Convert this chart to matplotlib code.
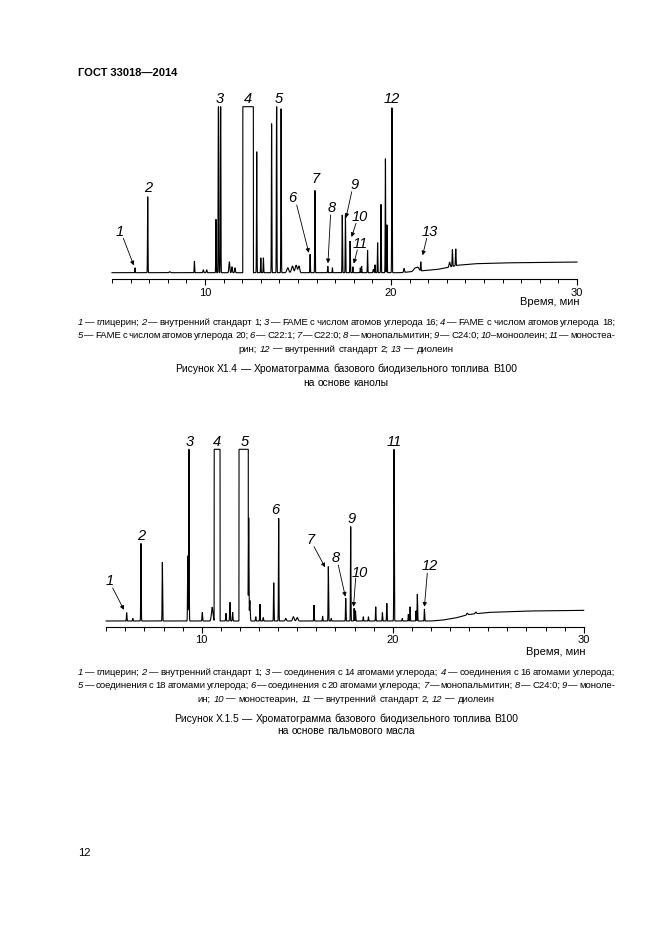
import numpy as np
import matplotlib
matplotlib.use("Agg")
import matplotlib.pyplot as plt
from matplotlib.ticker import MultipleLocator, FixedLocator

# ---------------------------------------------------------------- data
FULL = 100.0  # detector full scale (% of plot height)

# Figure X1.4 - canola biodiesel
canola_rt = [6.24, 6.92, 8.10, 9.43, 9.91, 10.09, 10.59, 10.72, 10.84, 11.31,
             11.45, 11.61, 12.78, 13.00, 13.14, 13.58, 13.85, 14.09, 14.45, 14.70,
             14.90, 15.05, 15.65, 15.91, 16.60, 16.85, 17.38, 17.55, 17.80, 17.95,
             18.35, 18.42, 18.74, 19.05, 19.14, 19.28, 19.46, 19.70, 19.78, 20.05,
             20.70, 21.30, 21.45, 21.60, 23.15, 23.30, 23.48]
canola_h = [3.0, 45.8, 0.6, 7.0, 1.8, 1.8, 32.2, 140, 140, 6.6,
            3.6, 3.0, 72.9, 9.0, 9.0, 89.8, 130, 98.8, 3.0, 4.0,
            4.5, 4.0, 11.1, 49.6, 4.0, 3.0, 34.8, 34.8, 19.1, 3.6,
            3.0, 4.0, 13.5, 2.0, 4.8, 18.1, 41.2, 68.7, 28.9, 99.4,
            2.4, 2.0, 2.0, 5.4, 3.0, 10.2, 10.2]
canola_w = [.012, .012, .03, .012, .02, .02, .012, .012, .012, .025,
            .02, .02, .012, .012, .012, .012, .012, .012, .05, .05,
            .05, .04, .012, .012, .012, .012, .012, .012, .012, .012,
            .012, .012, .012, .02, .012, .012, .012, .012, .012, .012,
            .02, .08, .06, .012, .03, .015, .015]
canola_sat = [(12.03, 12.60)]           # off-scale (saturated) intervals, min
canola_base_t = [5, 20.5, 21.5, 22.5, 23.0, 23.6, 24.5, 26, 28, 30]
canola_base_y = [0, 0, 1.0, 2.0, 3.0, 4.5, 5.4, 5.9, 6.2, 6.4]

# Figure X.1.5 - palm oil biodiesel
palm_rt = [6.07, 6.39, 6.82, 7.94, 9.27, 9.33, 10.03, 10.55, 11.27, 11.48,
           11.62, 12.46, 12.52, 12.83, 13.05, 13.22, 13.77, 14.03, 14.40, 14.80,
           15.00, 15.88, 16.33, 16.63, 16.78, 17.54, 17.80, 17.98, 18.05, 18.46,
           18.73, 19.11, 19.46, 19.69, 20.07, 20.50, 20.82, 20.91, 21.22, 21.29,
           21.66, 23.90, 24.35]
palm_h = [4.9, 1.6, 45.2, 34.2, 38, 150, 5.0, 8.0, 4.5, 10.9,
          5.0, 60, 12, 2.5, 9.9, 2.0, 22.3, 59.8, 1.5, 2.5,
          2.0, 9.3, 2.9, 31.7, 1.5, 13.2, 55, 7.4, 6.0, 2.5,
          2.5, 8.3, 4.9, 10.3, 100, 1.5, 4.0, 8.3, 6.0, 15.7,
          7.0, 1.0, 1.0]
palm_w = [.012, .012, .012, .012, .012, .012, .015, .04, .015, .015,
          .015, .012, .02, .015, .012, .015, .012, .012, .03, .04,
          .04, .012, .012, .012, .012, .012, .012, .012, .012, .012,
          .012, .012, .012, .012, .012, .015, .012, .012, .012, .012,
          .012, .03, .03]
palm_sat = [(10.65, 10.96), (11.95, 12.44)]
palm_base_t = [5, 22.0, 22.6, 23.3, 24.0, 25.0, 27.0, 30.0]
palm_base_y = [0, 0, 0.5, 1.8, 3.8, 5.0, 5.8, 6.2]

x_ticks = [10, 20, 30]
x_label = "Время, мин"

# peak labels: text, (x, y) of label, optional arrow (start, end)
canola_labels = [
    ("1", (5.43, 24.7), ((5.61, 20.7), (6.17, 4.4))),
    ("2", (6.92, 51.2), None),
    ("3", (10.81, 104.5), None),
    ("4", (12.30, 104.5), None),
    ("5", (13.94, 104.5), None),
    ("6", (14.71, 44.8), ((14.93, 40.8), (15.58, 12.0))),
    ("7", (15.97, 56.3), None),
    ("8", (16.81, 38.8), ((16.75, 34.8), (16.61, 5.7))),
    ("9", (18.06, 52.8), ((17.89, 48.8), (17.58, 33.0))),
    ("10", (18.30, 33.7), ((18.12, 29.8), (17.88, 21.5))),
    ("11", (18.33, 17.3), ((18.19, 13.7), (18.00, 5.5))),
    ("12", (20.02, 104.5), None),
    ("13", (22.06, 24.7), ((21.92, 20.7), (21.70, 10.5))),
]
palm_labels = [
    ("1", (5.16, 23.3), ((5.34, 19.2), (5.93, 6.5))),
    ("2", (6.82, 49.5), None),
    ("3", (9.35, 104.4), None),
    ("4", (10.82, 104.4), None),
    ("5", (12.27, 104.4), None),
    ("6", (13.87, 64.6), None),
    ("7", (15.72, 47.2), ((15.88, 43.3), (16.46, 31.3))),
    ("8", (17.03, 36.5), ((17.15, 32.6), (17.52, 14.2))),
    ("9", (17.85, 59.2), None),
    ("10", (18.25, 28.1), ((18.06, 24.9), (17.95, 8.3))),
    ("11", (20.07, 104.4), None),
    ("12", (21.92, 32.0), ((21.81, 27.8), (21.66, 8.3))),
]

header = "ГОСТ 33018—2014"
page_no = "12"

canola_legend = [
    "*1* — глицерин; *2* — внутренний стандарт 1; *3* — FAME с числом атомов углерода 16; *4* — FAME с числом атомов углерода 18;",
    "*5* — FAME с числом атомов углерода 20; *6* — C22:1; *7* — C22:0; *8* — монопальмитин; *9* — C24:0; *10*–моноолеин; *11* — моностеа-",
    "рин; *12* — внутренний стандарт 2; *13* — диолеин",
]
canola_title = ["Рисунок Х1.4 — Хроматограмма базового биодизельного топлива В100",
                "на основе канолы"]
palm_legend = [
    "*1* — глицерин; *2* — внутренний стандарт 1; *3* — соединения с 14 атомами углерода; *4* — соединения с 16 атомами углерода;",
    "*5* — соединения с 18 атомами углерода; *6* — соединения с 20 атомами углерода; *7* — монопальмитин; *8* — C24:0; *9* — моноле-",
    "ин; *10* — моностеарин, *11* — внутренний стандарт 2, *12* — диолеин",
]
palm_title = ["Рисунок Х.1.5 — Хроматограмма базового биодизельного топлива В100",
              "на основе пальмового масла"]

# ---------------------------------------------------------------- page
W, H = 661, 936
FONT = "Liberation Sans"
fig = plt.figure(figsize=(W / 100, H / 100), dpi=100)
fig.patch.set_facecolor("white")
renderer = fig.canvas.get_renderer()


def fx(x):
    return x / W


def fy(y):
    return 1 - y / H


def chromatogram(rt, h, w, sat, bt, by):
    t = np.linspace(5, 30, 25001)
    y = np.interp(t, bt, by)
    for r, a, s in zip(rt, h, w):
        y = y + a * np.exp(-0.5 * ((t - r) / s) ** 2)
    for a, b in sat:
        y[(t >= a) & (t <= b)] = FULL
    return t, np.minimum(y, FULL)


def draw_chart(left, right, top, spine, base, rt, h, w, sat, bt, by, labels, xlab_y):
    ax = fig.add_axes([fx(left), fy(spine), (right - left) / W, (spine - top) / H])
    ax.patch.set_alpha(0)
    unit = (base - top) / FULL
    ax.set_xlim(5, 30)
    ax.set_ylim(-(spine - base) / unit, FULL)
    t, y = chromatogram(rt, h, w, sat, bt, by)
    ax.plot(t, y, color="black", lw=0.8, clip_on=False, solid_joinstyle="miter")
    for s in ("left", "right", "top"):
        ax.spines[s].set_visible(False)
    ax.spines["bottom"].set_linewidth(0.8)
    ax.set_yticks([])
    ax.xaxis.set_major_locator(FixedLocator(x_ticks))
    ax.xaxis.set_minor_locator(MultipleLocator(1))
    ax.tick_params(axis="x", which="major", direction="out", length=4.2, width=0.8,
                   pad=2.0, labelsize=8)
    ax.tick_params(axis="x", which="minor", direction="out", length=2.6, width=0.7)
    for lab in ax.get_xticklabels():
        lab.set_family(FONT)
    for txt, (lx, ly), arrow in labels:
        ax.text(lx, ly, txt, ha="center", va="center", fontsize=10.5,
                style="italic", family=FONT, clip_on=False)
        if arrow is not None:
            (x0, y0), (x1, y1) = arrow
            ax.annotate("", xy=(x1, y1), xytext=(x0, y0), annotation_clip=False,
                        arrowprops=dict(arrowstyle="-|>", color="black", lw=0.6,
                                        mutation_scale=6, shrinkA=0, shrinkB=0))
    fig.text(fx(right + 2), fy(xlab_y), x_label, ha="right", va="baseline",
             fontsize=8, family=FONT)
    return ax


def seg_width(s, size, style="normal"):
    t = fig.text(0, 0, s, fontsize=size, family=FONT, style=style)
    wd = t.get_window_extent(renderer).width
    t.remove()
    return wd


def draw_line(s, y, size, mode, x0=78, x1=615, xc=346):
    words = []
    for word in s.split(" "):
        parts = word.split("*")
        segs = [(p, "italic" if i % 2 else "normal") for i, p in enumerate(parts) if p]
        words.append(segs)
    widths = [[seg_width(p, size, st) for p, st in segs] for segs in words]
    total = sum(sum(ws) for ws in widths)
    if mode == "justify":
        gap = (x1 - x0 - total) / (len(words) - 1)
        x = x0
    else:
        gap = seg_width("a a", size) - seg_width("aa", size)
        x = xc - (total + gap * (len(words) - 1)) / 2
    for segs, ws in zip(words, widths):
        for (p, st), wd in zip(segs, ws):
            fig.text(fx(x), fy(y), p, fontsize=size, family=FONT, style=st,
                     ha="left", va="baseline")
            x += wd
        x += gap


# header
fig.text(fx(78), fy(75.5), header, fontsize=8, weight="bold", family=FONT,
         ha="left", va="baseline")

# chart 1
draw_chart(112, 577, 106.7, 279.3, 272.7, canola_rt, canola_h, canola_w, canola_sat,
           canola_base_t, canola_base_y, canola_labels, 305)
for i, line in enumerate(canola_legend):
    draw_line(line, 325 + 13.3 * i, 6.8, "justify" if i < 2 else "center")
draw_line(canola_title[0], 372.5, 7.4, "center")
draw_line(canola_title[1], 385.5, 7.4, "center")

# chart 2
draw_chart(106.2, 583.7, 449.3, 626.7, 621.0, palm_rt, palm_h, palm_w, palm_sat,
           palm_base_t, palm_base_y, palm_labels, 655)
for i, line in enumerate(palm_legend):
    draw_line(line, 675 + 13.3 * i, 6.8, "justify" if i < 2 else "center")
draw_line(palm_title[0], 722, 7.4, "center")
draw_line(palm_title[1], 734.5, 7.4, "center")

fig.text(fx(78), fy(856), page_no, fontsize=8, family=FONT, ha="left", va="baseline")

fig.savefig("out.png", dpi=100, facecolor="white")
